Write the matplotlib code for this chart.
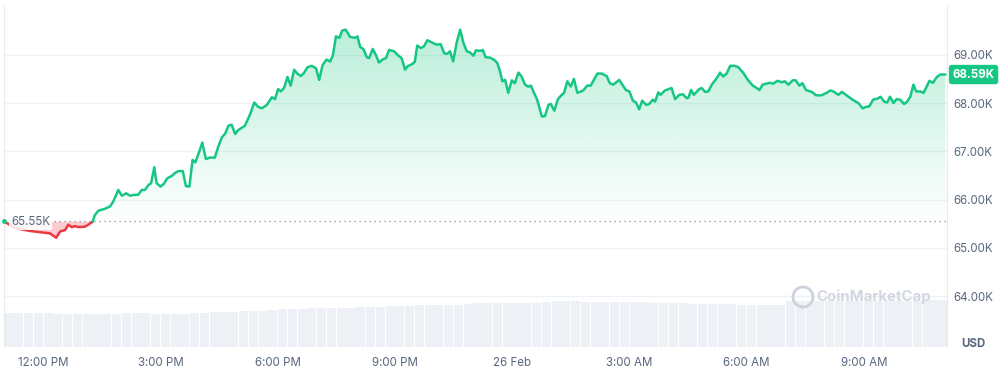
import matplotlib
matplotlib.use("Agg")
import matplotlib.pyplot as plt
import numpy as np
from matplotlib.patches import Polygon, Ellipse

plt.rcParams['font.family'] = ['Inter', 'DejaVu Sans']

# price trace, hours after 12:00 PM (25 Feb), price in thousands USD
hours = [-1.01, -0.72, -0.34, 0.17, 0.33, 0.43, 0.56, 0.64, 0.73, 0.81, 0.90, 1.07, 1.15, 1.26, 1.32, 1.41,
         1.58, 1.71, 1.79, 1.92, 2.01, 2.12, 2.22, 2.35, 2.43, 2.52, 2.60, 2.69, 2.76, 2.84, 2.90, 3.00,
         3.09, 3.17, 3.29, 3.37, 3.46, 3.57, 3.65, 3.74, 3.82, 3.89, 3.99, 4.07, 4.16, 4.27, 4.39, 4.48,
         4.57, 4.65, 4.74, 4.82, 4.91, 4.99, 5.16, 5.29, 5.40, 5.50, 5.59, 5.72, 5.85, 5.93, 6.01, 6.08,
         6.16, 6.25, 6.33, 6.42, 6.50, 6.59, 6.67, 6.76, 6.87, 6.98, 7.06, 7.15, 7.25, 7.34, 7.41, 7.49,
         7.58, 7.65, 7.74, 7.85, 7.98, 8.04, 8.11, 8.19, 8.28, 8.34, 8.43, 8.51, 8.59, 8.70, 8.77, 8.85,
         8.98, 9.09, 9.17, 9.26, 9.32, 9.45, 9.51, 9.57, 9.66, 9.74, 9.83, 9.98, 10.07, 10.17, 10.26, 10.34,
         10.41, 10.49, 10.58, 10.67, 10.75, 10.84, 10.92, 11.01, 11.07, 11.20, 11.25, 11.32, 11.43, 11.53,
         11.62, 11.69, 11.75, 11.82, 11.90, 11.99, 12.07, 12.16, 12.24, 12.33, 12.41, 12.48, 12.56, 12.64,
         12.76, 12.84, 12.93, 12.99, 13.08, 13.17, 13.27, 13.33, 13.41, 13.50, 13.58, 13.67, 13.82, 13.92,
         14.01, 14.18, 14.29, 14.42, 14.50, 14.59, 14.74, 14.91, 15.00, 15.09, 15.17, 15.25, 15.33, 15.43,
         15.51, 15.60, 15.66, 15.74, 15.80, 15.91, 16.08, 16.17, 16.28, 16.37, 16.47, 16.51, 16.58, 16.65,
         16.79, 16.85, 16.94, 17.02, 17.11, 17.24, 17.32, 17.40, 17.49, 17.58, 17.70, 17.79, 17.92, 18.04,
         18.16, 18.24, 18.33, 18.41, 18.50, 18.60, 18.68, 18.79, 18.90, 18.98, 19.07, 19.18, 19.26, 19.35,
         19.43, 19.52, 19.67, 19.78, 19.92, 20.05, 20.14, 20.22, 20.35, 20.44, 20.54, 20.66, 20.75, 20.86,
         20.97, 21.06, 21.14, 21.24, 21.35, 21.43, 21.52, 21.60, 21.67, 21.76, 21.84, 21.93, 22.03, 22.10,
         22.19, 22.27, 22.34, 22.44, 22.53, 22.61, 22.68, 22.77, 22.87, 22.96, 23.09]
price = [65.55, 65.41, 65.35, 65.30, 65.21, 65.34, 65.37, 65.48, 65.43, 65.45, 65.43, 65.44, 65.48, 65.54, 65.68, 65.77,
         65.81, 65.86, 65.96, 66.20, 66.08, 66.13, 66.08, 66.10, 66.10, 66.20, 66.20, 66.30, 66.34, 66.67, 66.34, 66.27,
         66.33, 66.44, 66.49, 66.55, 66.59, 66.59, 66.28, 66.27, 66.82, 66.77, 66.99, 67.18, 66.84, 66.87, 66.87, 67.10,
         67.29, 67.36, 67.53, 67.55, 67.36, 67.44, 67.53, 67.76, 68.01, 67.92, 67.89, 67.96, 68.12, 68.08, 68.29, 68.24,
         68.31, 68.54, 68.36, 68.69, 68.61, 68.56, 68.62, 68.74, 68.77, 68.72, 68.48, 68.79, 68.90, 68.86, 68.98, 69.38,
         69.35, 69.50, 69.52, 69.37, 69.35, 69.38, 69.16, 69.12, 68.95, 68.93, 69.12, 69.00, 68.84, 68.91, 68.93, 69.10,
         69.07, 68.98, 68.93, 68.69, 68.76, 68.81, 68.86, 69.19, 69.14, 69.17, 69.30, 69.24, 69.21, 69.22, 69.03, 69.02,
         69.07, 68.86, 69.25, 69.52, 69.25, 69.07, 69.05, 68.98, 69.09, 69.08, 69.10, 68.95, 68.94, 68.90,
         68.83, 68.65, 68.45, 68.48, 68.21, 68.47, 68.41, 68.63, 68.55, 68.38, 68.34, 68.36, 68.21, 68.07,
         67.72, 67.73, 67.96, 67.98, 67.84, 68.08, 68.17, 68.21, 68.45, 68.34, 68.50, 68.21, 68.26, 68.36,
         68.36, 68.61, 68.61, 68.56, 68.41, 68.38, 68.48, 68.27, 68.24, 68.05, 68.01, 67.87, 68.05, 67.96,
         67.98, 68.07, 68.03, 68.22, 68.17, 68.26, 68.31, 68.08, 68.17, 68.18, 68.10, 68.11, 68.27, 68.17,
         68.29, 68.31, 68.23, 68.24, 68.38, 68.52, 68.63, 68.55, 68.61, 68.77, 68.77, 68.74, 68.62, 68.47,
         68.36, 68.32, 68.27, 68.38, 68.40, 68.42, 68.40, 68.46, 68.43, 68.45, 68.38, 68.47, 68.47, 68.36,
         68.41, 68.27, 68.23, 68.16, 68.16, 68.21, 68.26, 68.24, 68.17, 68.23, 68.17, 68.10, 68.05, 68.00,
         67.89, 67.92, 67.93, 68.07, 68.09, 68.13, 68.03, 68.01, 68.13, 68.00, 68.08, 68.07, 67.98, 68.02,
         68.13, 68.38, 68.24, 68.24, 68.21, 68.34, 68.46, 68.42, 68.54, 68.59, 68.59]
open_price = 65.55
last_price = 68.59

# 15-minute volume buckets (billions USD), first bucket starts at -1.0 h
vol_start = -1.0
vol_step = 0.25
volume = [30.1, 30.4, 30.1, 30.4, 30.1,
          29.5, 29.6, 29.5, 29.4, 29.5, 29.6, 29.5,
          30.1, 30.0, 30.1,
          29.5, 29.6, 29.5, 29.8,
          30.4, 30.4,
          31.2, 31.3, 31.2,
          32.1, 32.0, 32.3,
          33.4, 33.5, 33.6,
          34.3, 34.4, 34.5,
          35.0, 35.1, 35.2,
          35.6, 35.7, 35.8,
          36.3, 36.3, 36.4,
          37.1, 37.2, 37.3,
          37.9, 37.9,
          38.6, 38.8, 38.9,
          39.3, 39.2, 39.3, 39.4, 39.3,
          40.4, 40.6, 40.7, 40.6, 40.5,
          40.2, 40.2, 40.1, 40.2, 40.0,
          39.7, 39.6, 39.6, 39.5, 39.4,
          38.6, 38.4, 38.4, 38.3, 38.3,
          37.9, 37.8, 37.8, 37.7, 37.8,
          41.2, 41.3, 41.3, 41.4, 41.3, 41.3, 41.2, 41.3, 41.3, 41.4, 41.3, 41.3, 41.3, 41.4, 41.5, 41.6, 41.6]

tick_hours = [0, 3, 6, 9, 12, 15, 18, 21]
tick_labels = ['12:00 PM', '3:00 PM', '6:00 PM', '9:00 PM', '26 Feb', '3:00 AM', '6:00 AM', '9:00 AM']
price_ticks = [64, 65, 66, 67, 68, 69]

GREEN = '#16c784'
RED = '#ea3943'
GREY = '#58667e'

W, H = 1001, 371
fig = plt.figure(figsize=(W / 100, H / 100), dpi=100)
ax = fig.add_axes([4 / W, 1 - 347 / H, 943 / W, 342 / H])
ax2 = ax.twinx()
ax.set_zorder(2)
ax.patch.set_visible(False)

# volume bars
vt = vol_start + vol_step * (np.arange(len(volume)) + 0.5)
ax2.bar(vt, volume, width=vol_step * 0.93, color='#edf0f4', linewidth=0)
ax2.set_ylim(0, 305)
ax2.set_yticks([])
for s in ax2.spines.values():
    s.set_visible(False)

t = np.array(hours)
p = np.array(price)

# insert crossing points with the open price
tt, pp = [t[0]], [p[0]]
for i in range(1, len(t)):
    a, b = p[i - 1] - open_price, p[i] - open_price
    if a * b < 0:
        f = a / (a - b)
        tt.append(t[i - 1] + f * (t[i] - t[i - 1]))
        pp.append(open_price)
    tt.append(t[i])
    pp.append(p[i])
tt, pp = np.array(tt), np.array(pp)

# red fill below the open price
ax.fill_between(tt, pp, open_price, where=pp <= open_price, color=RED, alpha=0.25, linewidth=0)

# green gradient above the open price
top = 70.03
idx = np.where(pp >= open_price)[0]
start = idx[idx > 0][0] - 1 if pp[0] == open_price else idx[0]
start = np.where((pp[:-1] <= open_price) & (pp[1:] > open_price))[0][-1]
verts = [(tt[start], open_price)] + list(zip(tt[start:], pp[start:])) + [(tt[-1], open_price)]
poly = Polygon(verts, closed=True, facecolor='none', edgecolor='none')
ax.add_patch(poly)
n = 256
grad = np.zeros((n, 1, 4))
grad[..., 0] = 22 / 255
grad[..., 1] = 199 / 255
grad[..., 2] = 132 / 255
grad[..., 3] = np.linspace(0.30, 0.0, n)[:, None]
im = ax.imshow(grad, extent=[tt[start], tt[-1], open_price - 0.05, 69.6], aspect='auto',
               origin='upper', zorder=1)
im.set_clip_path(poly)

# line in two colours
ax.plot(tt, np.where(pp <= open_price, pp, np.nan), color=RED, lw=1.8, zorder=3, solid_capstyle='round')
ax.plot(tt, np.where(pp >= open_price, pp, np.nan), color=GREEN, lw=1.8, zorder=3, solid_capstyle='round')

# open price dotted line and label
ax.axhline(open_price, color='#858ca2', lw=0.9, ls=(0, (1, 3)), zorder=2)
ax.plot([t[0]], [open_price], marker='o', ms=2.5, color=GREEN, zorder=5, clip_on=False)
ax.annotate('65.55K', xy=(0, open_price), xycoords=ax.get_yaxis_transform(),
            xytext=(5, -0.5), textcoords='offset points', ha='left', va='center',
            fontsize=8.3, color=GREY, zorder=6,
            bbox=dict(boxstyle='square,pad=0.2', fc='white', ec='none', alpha=0.85))

# last price tag
ax.annotate('68.59K', xy=(1, last_price), xycoords=ax.get_yaxis_transform(),
            xytext=(4, 0), textcoords='offset points', ha='left', va='center',
            fontsize=8.3, color='white', fontweight='bold', zorder=6, annotation_clip=False,
            bbox=dict(boxstyle='round,pad=0.32,rounding_size=0.25', fc=GREEN, ec='none'))

ax.set_xlim(-1.006, 23.13)
ax.set_ylim(62.947, top)
ax.set_xticks(tick_hours)
ax.set_xticklabels(tick_labels)
ax.set_yticks(price_ticks)
ax.set_yticklabels(['%.2fK' % v for v in price_ticks])
ax.yaxis.tick_right()
ax.tick_params(axis='both', length=0, colors=GREY, labelsize=8.3)
ax.tick_params(axis='y', pad=4.5)
ax.tick_params(axis='x', pad=7)
ax.grid(axis='y', color='#eff2f5', lw=1)
ax.set_axisbelow(True)
for k in ['top', 'bottom']:
    ax.spines[k].set_visible(False)
for k in ['left', 'right']:
    ax.spines[k].set_color('#e8eaee')
    ax.spines[k].set_linewidth(0.8)

fig.text(973 / W, 1 - 344 / H, 'USD', ha='center', va='center', fontsize=8.3, fontweight='bold', color=GREY)

# watermark
fig.patches.append(Ellipse((803 / W, 1 - 297 / H), 20 / W, 20 / H, transform=fig.transFigure,
                           fill=False, ec='#ccd2dc', lw=2, zorder=4))
fig.text(816 / W, 1 - 297 / H, 'CoinMarketCap', ha='left', va='center', fontsize=10.8,
         fontweight='bold', color='#d2d7e0', zorder=4)

fig.savefig('out.png', dpi=100)
